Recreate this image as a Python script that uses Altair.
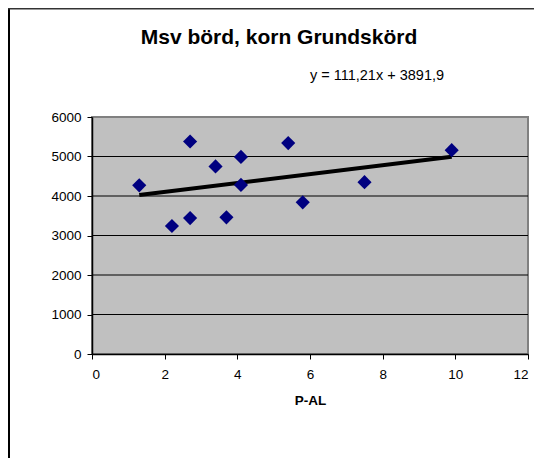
import altair as alt
import pandas as pd

# ---- data ----
p_al = [1.3, 2.2, 2.7, 2.7, 3.4, 3.7, 4.1, 4.1, 5.4, 5.8, 7.5, 9.9]
skord = [4270, 3240, 5380, 3440, 4750, 3460, 4990, 4280, 5340, 3840, 4350, 5160]
x_ticks = [0, 2, 4, 6, 8, 10, 12]
y_ticks = [0, 1000, 2000, 3000, 4000, 5000, 6000]
grid_values = [1000, 2000, 3000, 4000, 5000]
title_text = ["Msv börd, korn Grundskörd"]
equation_text = ["y = 111,21x + 3891,9"]
x_title = "P-AL"

df = pd.DataFrame({"pal": p_al, "skord": skord})
grid_df = pd.DataFrame({"g": grid_values})
title_df = pd.DataFrame({"t": title_text})
eq_df = pd.DataFrame({"t": equation_text})

W, H = 436, 237
FONT = "Liberation Sans"

xs = alt.Scale(domain=[0, 12], nice=False, zero=False)
ys = alt.Scale(domain=[0, 6000], nice=False)

x_axis = alt.Axis(values=x_ticks, title=x_title, grid=False, format="d",
                  labelPadding=8, titlePadding=13, titleFontWeight="bold",
                  titleFontSize=13.5)
y_axis = alt.Axis(values=y_ticks, title=None, grid=False, format="d",
                  labelPadding=6)

grid = alt.Chart(grid_df).mark_rule(color="black", strokeWidth=1).encode(
    y=alt.Y("g:Q", scale=ys, axis=y_axis)
)

trend = alt.Chart(df).transform_regression("pal", "skord").mark_line(
    color="black", strokeWidth=4
).encode(
    x=alt.X("pal:Q", scale=xs, axis=x_axis),
    y=alt.Y("skord:Q", scale=ys, axis=y_axis),
)

points = alt.Chart(df).mark_point(
    shape="diamond", filled=True, size=200, color="#000080", opacity=1
).encode(
    x=alt.X("pal:Q", scale=xs, axis=x_axis),
    y=alt.Y("skord:Q", scale=ys, axis=y_axis),
)

title_layer = alt.Chart(title_df).mark_text(
    font=FONT, fontSize=21, fontWeight="bold", color="black",
    align="center", baseline="alphabetic"
).encode(x=alt.value(187), y=alt.value(-73), text="t:N")

eq_layer = alt.Chart(eq_df).mark_text(
    font=FONT, fontSize=14.5, color="black", align="center", baseline="alphabetic"
).encode(x=alt.value(285), y=alt.value(-37), text="t:N")

border_left = alt.Chart(title_df).mark_rule(color="black", strokeWidth=2).encode(
    x=alt.value(-83), y=alt.value(-109), y2=alt.value(H + 117)
)
border_top = alt.Chart(title_df).mark_rule(color="#333333", strokeWidth=2).encode(
    y=alt.value(-108.5), x=alt.value(-84), x2=alt.value(W + 14)
)

chart = alt.layer(
    grid, trend, points, title_layer, eq_layer, border_left, border_top
).properties(
    width=W, height=H,
    autosize=alt.AutoSizeParams(type="none"),
    padding={"left": 84, "top": 109, "right": 6, "bottom": 104},
).configure_view(
    fill="#C0C0C0", stroke="#808080", strokeWidth=2
).configure_axis(
    labelFont=FONT, titleFont=FONT, labelFontSize=13.5, labelColor="black",
    titleColor="black", domainColor="black", domainWidth=1.5,
    tickColor="black", tickSize=5, tickWidth=1
)

chart.save("out.html", embed_options={"renderer": "svg", "actions": False})
